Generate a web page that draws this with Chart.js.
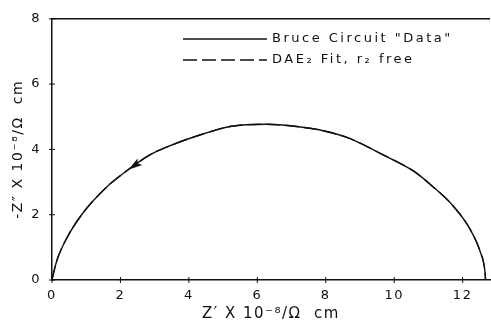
<!DOCTYPE html>
<html>
<head>
<meta charset="utf-8">
<script src="https://cdn.jsdelivr.net/npm/chart.js@4.4.1/dist/chart.umd.min.js"></script>
<style>
  html, body { margin: 0; padding: 0; background: #fff; }
  #wrap { width: 491px; height: 325px; }
</style>
</head>
<body>
<div id="wrap"><canvas id="c" width="491" height="325"></canvas></div>
<script>
// ---- data ----
const dataLabel = 'Bruce Circuit "Data"';
const fitLabel = 'DAE\u2082 Fit, r\u2082 free';

const dataZre = [0, 0.02, 0.14, 0.43, 0.91, 1.60, 2.04, 2.86, 3.54, 4.32, 5.20, 6.27, 7.15, 7.93, 8.71, 9.68, 10.56, 11.14, 11.73, 12.21, 12.51, 12.65, 12.67];
const dataZim = [0, 0.10, 0.59, 1.28, 2.06, 2.85, 3.23, 3.83, 4.15, 4.44, 4.70, 4.77, 4.70, 4.57, 4.33, 3.83, 3.34, 2.85, 2.26, 1.57, 0.88, 0.29, 0.02];

const fitZre = [0, 0.02, 0.14, 0.43, 0.91, 1.60, 2.04, 2.86, 3.54, 4.32, 5.20, 6.27, 7.15, 7.93, 8.71, 9.68, 10.56, 11.14, 11.73, 12.21, 12.51, 12.65, 12.67];
const fitZim = [0, 0.10, 0.59, 1.28, 2.06, 2.85, 3.23, 3.83, 4.15, 4.44, 4.70, 4.77, 4.70, 4.57, 4.33, 3.83, 3.34, 2.85, 2.26, 1.57, 0.88, 0.29, 0.02];

// arrowhead marking the direction of decreasing frequency
const arrowZre = [2.40];
const arrowZim = [3.50];

const xTicks = [0, 2, 4, 6, 8, 10, 12];
const yTicks = [0, 2, 4, 6, 8];

const xTitle = "Z\u2032 X 10\u207B\u2078/\u03A9  cm";
const yTitle = "-Z\u2033 X 10\u207B\u2078/\u03A9  cm";

// ---- helpers ----
const INK = '#111';
const toPts = (xs, ys) => xs.map((x, i) => ({ x: x, y: ys[i] }));
const FONT = '"DejaVu Sans", "Liberation Sans", sans-serif';

const spacing = {
  id: 'spacing',
  beforeDraw(chart) { try { chart.ctx.letterSpacing = '1.5px'; } catch (e) {} },
  afterDraw(chart) { try { chart.ctx.letterSpacing = '0px'; } catch (e) {} }
};

// custom legend + top frame + crossing tick marks + arrowhead
const decor = {
  id: 'decor',
  afterDraw(chart) {
    const ctx = chart.ctx;
    const a = chart.chartArea;
    const xs = chart.scales.x, ys = chart.scales.y;
    ctx.save();
    ctx.strokeStyle = INK;
    ctx.fillStyle = INK;
    ctx.lineWidth = 1.5;
    ctx.beginPath();
    ctx.moveTo(a.left, a.top);
    ctx.lineTo(a.right, a.top);
    ctx.stroke();
    ctx.lineWidth = 1;
    xTicks.forEach(v => {
      const px = xs.getPixelForValue(v);
      ctx.beginPath();
      ctx.moveTo(px, a.bottom - 3);
      ctx.lineTo(px, a.bottom + 3);
      ctx.stroke();
    });
    yTicks.forEach(v => {
      const py = ys.getPixelForValue(v);
      ctx.beginPath();
      ctx.moveTo(a.left - 3, py);
      ctx.lineTo(a.left + 3, py);
      ctx.stroke();
    });

    // arrowhead: placed at the arrow dataset's point, oriented along the curve
    const meta = chart.getDatasetMeta(2);
    const pt = meta.data[0];
    if (pt) {
      const ax = pt.x, ay = pt.y;
      // tangent from neighbouring curve samples (pointing towards lower Z')
      const p1x = xs.getPixelForValue(dataZre[7]), p1y = ys.getPixelForValue(dataZim[7]);
      const p0x = xs.getPixelForValue(dataZre[6]), p0y = ys.getPixelForValue(dataZim[6]);
      let dx = p0x - p1x, dy = p0y - p1y;
      const L = Math.hypot(dx, dy); dx /= L; dy /= L;
      const nx = -dy, ny = dx;
      const half = 7, w = 4;
      ctx.beginPath();
      ctx.moveTo(ax + dx * half, ay + dy * half);
      ctx.lineTo(ax - dx * half + nx * w, ay - dy * half + ny * w);
      ctx.lineTo(ax - dx * half * 0.6, ay - dy * half * 0.6);
      ctx.lineTo(ax - dx * half - nx * w, ay - dy * half - ny * w);
      ctx.closePath();
      ctx.fill();
    }

    const rows = [
      { label: chart.data.datasets[0].label, dash: [], y: 39 },
      { label: chart.data.datasets[1].label, dash: [14, 5], y: 60 }
    ];
    const x0 = 183, x1 = 267;
    ctx.font = '13px ' + FONT;
    ctx.textBaseline = 'middle';
    ctx.textAlign = 'left';
    try { ctx.letterSpacing = '2.5px'; } catch (e) {}
    rows.forEach(r => {
      ctx.lineWidth = 1.4;
      ctx.setLineDash(r.dash);
      ctx.beginPath();
      ctx.moveTo(x0, r.y);
      ctx.lineTo(x1, r.y);
      ctx.stroke();
      ctx.setLineDash([]);
      ctx.fillText(r.label, 272, r.y);
    });
    ctx.restore();
  }
};

new Chart(document.getElementById('c'), {
  type: 'scatter',
  data: {
    datasets: [
      {
        label: dataLabel,
        data: toPts(dataZre, dataZim),
        showLine: true,
        borderColor: INK,
        borderWidth: 1.4,
        pointRadius: 0,
        cubicInterpolationMode: 'monotone',
        fill: false
      },
      {
        label: fitLabel,
        data: toPts(fitZre, fitZim),
        showLine: true,
        borderColor: INK,
        borderWidth: 1.4,
        borderDash: [14, 5],
        pointRadius: 0,
        cubicInterpolationMode: 'monotone',
        fill: false
      },
      {
        label: 'arrow',
        data: toPts(arrowZre, arrowZim),
        showLine: false,
        pointRadius: 0,
        pointHoverRadius: 0
      }
    ]
  },
  options: {
    responsive: false,
    animation: false,
    devicePixelRatio: 1,
    layout: { padding: { top: 9, right: 1, left: 0, bottom: 0 } },
    plugins: { legend: { display: false }, tooltip: { enabled: false } },
    scales: {
      x: {
        type: 'linear',
        min: 0, max: 12.8,
        grid: { display: false, drawTicks: false },
        border: { display: true, color: INK, width: 1.5 },
        ticks: {
          stepSize: 2, includeBounds: false, padding: 8,
          color: INK, font: { family: FONT, size: 13 },
          maxRotation: 0
        },
        title: {
          display: true, text: xTitle, color: INK,
          font: { family: FONT, size: 15 },
          padding: { top: 0, bottom: 2 }
        },
        afterFit(s) { s.height = 45; }
      },
      y: {
        type: 'linear',
        min: 0, max: 8,
        grid: { display: false, drawTicks: false },
        border: { display: true, color: INK, width: 1.5 },
        ticks: {
          stepSize: 2, padding: 11,
          color: INK, font: { family: FONT, size: 13 }
        },
        title: {
          display: true, text: yTitle, color: INK,
          font: { family: FONT, size: 14 },
          padding: { top: 10, bottom: 0 }
        },
        afterFit(s) { s.width = 52; }
      }
    }
  },
  plugins: [spacing, decor]
});
</script>
</body>
</html>
